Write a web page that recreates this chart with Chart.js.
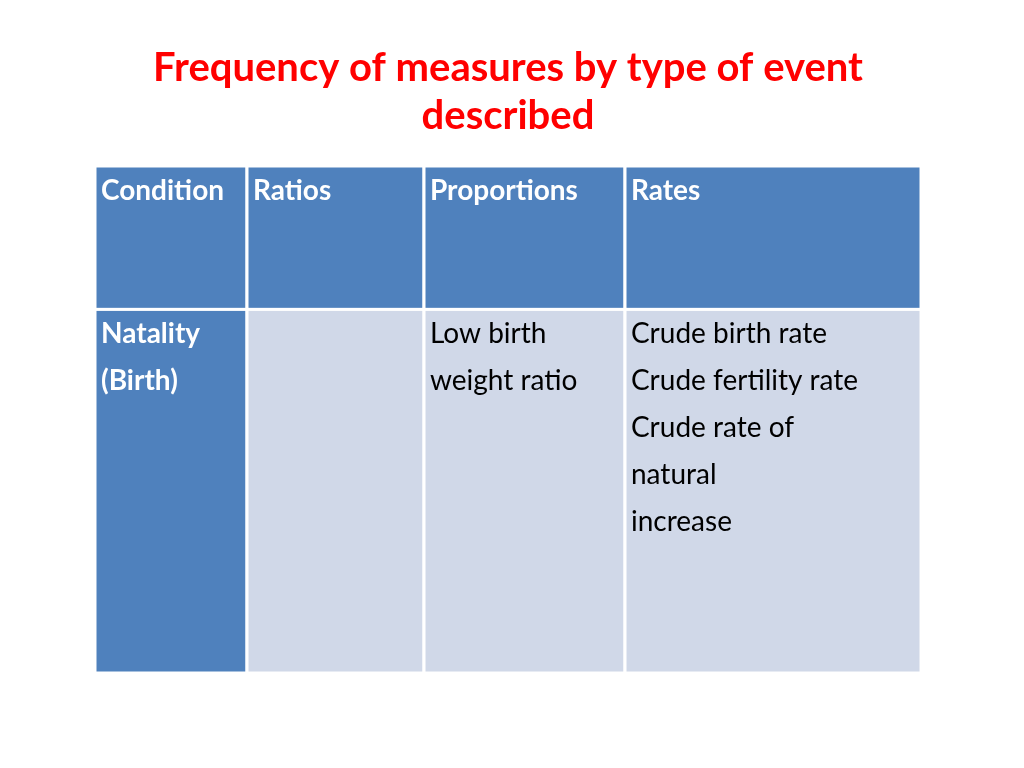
<!DOCTYPE html>
<html><head><meta charset="utf-8">
<script src="https://cdn.jsdelivr.net/npm/chart.js@4/dist/chart.umd.min.js"></script>
<style>html,body{margin:0;padding:0;background:#fff}#w{width:1024px;height:768px}</style>
</head><body><div id="w"><canvas id="c"></canvas></div>
<script>
const titleLines = ["Frequency of measures by type of event", "described"];
const columns = ["Condition", "Ratios", "Proportions", "Rates"];
const columnWidths = [152, 177, 201, 296];
const rowHeights = [142, 360];
const bodyRow = [["Natality", "(Birth)"], [], ["Low birth", "weight ratio"],
  ["Crude birth rate", "Crude fertility rate", "Crude rate of", "natural", "increase"]];

const colEdges = [0]; columnWidths.forEach(w => colEdges.push(colEdges[colEdges.length-1] + w));
const rowEdges = [0]; rowHeights.forEach(h => rowEdges.push(rowEdges[rowEdges.length-1] + h));

const tablePlugin = {
  id: 'table',
  afterDatasetsDraw(chart) {
    const {ctx, scales: {x, y}} = chart;
    const rows = [columns.map(c => [c]), bodyRow];
    ctx.save();
    for (let r = 0; r < 2; r++) for (let c = 0; c < 4; c++) {
      const x0 = x.getPixelForValue(colEdges[c]), x1 = x.getPixelForValue(colEdges[c+1]);
      const y0 = y.getPixelForValue(rowEdges[r]), y1 = y.getPixelForValue(rowEdges[r+1]);
      const dark = r === 0 || c === 0;
      ctx.fillStyle = dark ? '#4F81BD' : '#D0D8E8';
      ctx.fillRect(x0, y0, x1 - x0, y1 - y0);
      ctx.strokeStyle = '#ffffff'; ctx.lineWidth = 3;
      ctx.strokeRect(x0, y0, x1 - x0, y1 - y0);
      ctx.fillStyle = dark ? '#ffffff' : '#000000';
      ctx.font = (dark ? 'bold ' : '') + '28px Lato, "Open Sans", sans-serif';
      ctx.textBaseline = 'middle'; ctx.textAlign = 'left';
      rows[r][c].forEach((t, i) => ctx.fillText(t, x0 + 6, y0 + 25 + i * 47));
    }
    ctx.restore();
  }
};

new Chart(document.getElementById('c'), {
  type: 'scatter',
  data: { datasets: [{ data: [], pointRadius: 0 }] },
  options: {
    responsive: true, maintainAspectRatio: false, animation: false,
    layout: { padding: { left: 95, right: 103, top: 0, bottom: 95 } },
    plugins: {
      legend: { display: false }, tooltip: { enabled: false },
      title: { display: true, text: titleLines, color: '#FF0000',
        font: { family: 'Lato, "Open Sans", sans-serif', size: 40, weight: 'bold' },
        padding: { top: 44, bottom: 26 }, lineHeight: 1.35 }
    },
    scales: {
      x: { type: 'linear', display: false, min: 0, max: colEdges[colEdges.length-1] },
      y: { type: 'linear', display: false, reverse: true, min: 0, max: rowEdges[rowEdges.length-1] }
    }
  },
  plugins: [tablePlugin]
});
</script></body></html>
